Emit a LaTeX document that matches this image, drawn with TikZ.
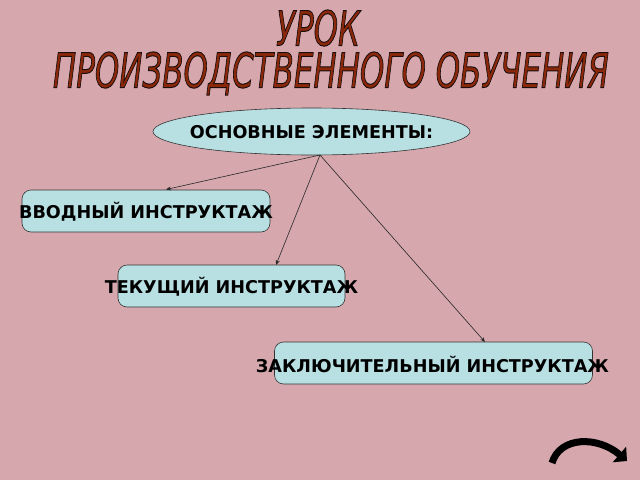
\documentclass[tikz,border=0pt]{standalone}
\usepackage{fontspec}
\setmainfont{DejaVu Sans}
\newfontfamily\titlefont{DejaVu Sans}
\usetikzlibrary{arrows.meta,shapes.geometric}
\definecolor{bgpink}{RGB}{214,168,174}
\definecolor{boxcyan}{RGB}{184,224,226}
\definecolor{titlebrown}{RGB}{140,40,10}
\newcommand{\outlinedtitle}[1]{%
  \special{pdf:literal direct 2 Tr 1 w 0.1 0.05 0.05 RG}#1\special{pdf:literal direct 0 Tr}}
\begin{document}
\begin{tikzpicture}[x=1pt,y=-1pt,
  boxstyle/.style={draw=black!80,fill=boxcyan,rounded corners=9pt,line width=0.6pt},
  lbl/.style={font=\fontsize{17.6}{19}\selectfont\bfseries,text=black,inner sep=0},
  conn/.style={draw=black!85,line width=0.6pt,-{Stealth[length=5pt,width=4pt]}},
  ttl/.style={inner sep=0,xscale=0.645,text=titlebrown,align=center,font=\titlefont\fontsize{48}{42}\selectfont\itshape}]
\fill[bgpink] (0,0) rectangle (640,480);
\useasboundingbox (0,0) rectangle (640,480);
% title
\node[ttl,anchor=base] (title) at (331,87.5) {\outlinedtitle{УРОК}\hspace*{40pt}\\\outlinedtitle{ПРОИЗВОДСТВЕННОГО ОБУЧЕНИЯ}};
% ellipse
\node[draw=black!80,fill=boxcyan,ellipse,minimum width=317pt,minimum height=47pt,inner sep=0,line width=0.6pt] (main) at (311.5,131.5) {};
\node[lbl] (mainl) at (311.5,132) {ОСНОВНЫЕ ЭЛЕМЕНТЫ:};
% boxes
\node[boxstyle,minimum width=248pt,minimum height=42pt] (b1) at (146,211) {};
\node[lbl] (b1l) at (146,212) {ВВОДНЫЙ ИНСТРУКТАЖ};
\node[boxstyle,minimum width=227pt,minimum height=42pt] (b2) at (231.5,286) {};
\node[lbl] (b2l) at (231.5,287) {ТЕКУЩИЙ ИНСТРУКТАЖ};
\node[boxstyle,minimum width=318pt,minimum height=42pt] (b3) at (433.5,363) {};
\node[lbl] (b3l) at (432.5,364) {ЗАКЛЮЧИТЕЛЬНЫЙ ИНСТРУКТАЖ};
% connectors
\coordinate (src) at (320,155);
\draw[conn] (src) -- (166,189.5);
\draw[conn] (src) -- (276,265);
\draw[conn] (src) -- (485,342);
% curved arrow
\coordinate (ca) at (552,463);
\coordinate (cb) at (627,461);
\draw[black,line width=7pt,-{Triangle[length=10pt,width=20pt]}] (ca) .. controls (560,436) and (598,436) .. (cb);
\end{tikzpicture}
\end{document}
